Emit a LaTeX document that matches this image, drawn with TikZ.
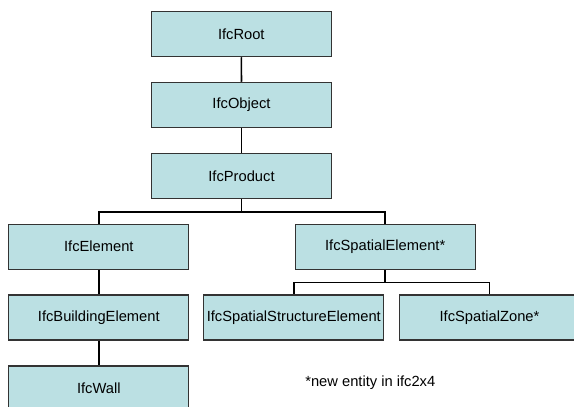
\documentclass[tikz,border=0pt]{standalone}
\usepackage{fontspec}
\setmainfont{Liberation Sans}
\definecolor{boxfill}{HTML}{BBE0E3}
\definecolor{boxline}{HTML}{333333}
\begin{document}
\begin{tikzpicture}[x=1pt,y=-1pt,
  entity/.style={draw=boxline,line width=1.1pt,fill=boxfill,minimum width=180pt,minimum height=45pt,inner sep=0pt,font=\fontsize{14.7}{17}\selectfont},
  link/.style={draw=black,line width=1.6pt}]
\useasboundingbox (0,0) rectangle (574,407);
\clip (0,0) rectangle (574,407);
\node[entity] (root) at (241.3,34.2) {IfcRoot};
\node[entity] (obj) at (241.5,104.8) {IfcObject};
\node[entity] (prod) at (241.5,176.2) {IfcProduct};
\node[entity] (elem) at (98.8,246.7) {IfcElement};
\node[entity] (bel) at (98.8,317.5) {IfcBuildingElement};
\node[entity] (wall) at (98.8,388.5) {IfcWall};
\node[entity] (spel) at (385.2,246.7) {IfcSpatialElement*};
\node[entity] (sse) at (293.8,317.5) {IfcSpatialStructureElement};
\node[entity] (zone) at (489.5,317.5) {IfcSpatialZone*};
\node[font=\fontsize{14.7}{17}\selectfont] (note) at (370.3,382.6) {*new entity in ifc2x4};
\coordinate (b1) at (241.5,211.7);
\coordinate (b2) at (385.2,282.3);
\draw[link] (root.south) -- (obj.north);
\draw[link] (obj.south) -- (prod.north);
\draw[link] (prod.south) -- (b1) -| (elem.north);
\draw[link] (b1) -| (spel.north);
\draw[link] (elem.south) -- (bel.north);
\draw[link] (bel.south) -- (wall.north);
\draw[link] (spel.south) -- (b2) -| (sse.north);
\draw[link] (b2) -| (zone.north);
\end{tikzpicture}
\end{document}
